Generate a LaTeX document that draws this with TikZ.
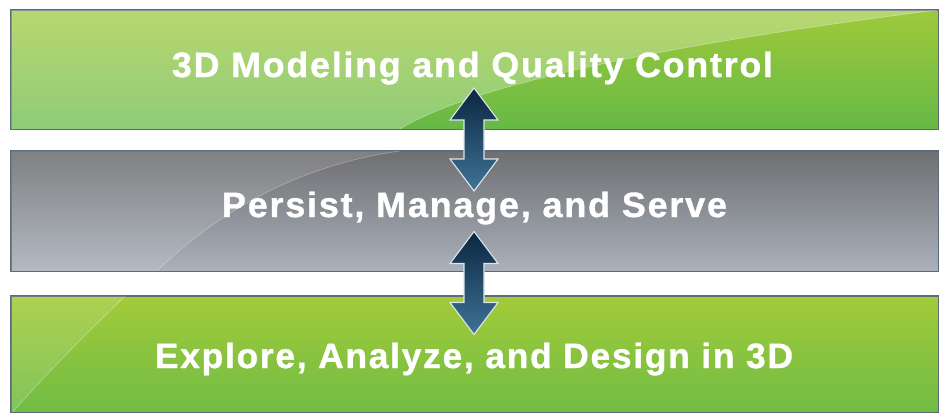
\documentclass[tikz,border=0pt]{standalone}
\usepackage{fontspec}
\usepackage{graphicx}
\setmainfont{Liberation Sans}
\newfontfamily\bandfont{Liberation Sans Bold}[LetterSpace=5, FakeBold=1]
\definecolor{grnTop}{HTML}{9FC93A}
\definecolor{grnBot}{HTML}{66B946}
\definecolor{grnTopB}{HTML}{A3CB39}
\definecolor{grnBotB}{HTML}{70BC45}
\definecolor{gryTop}{HTML}{6E6F72}
\definecolor{gryBot}{HTML}{AAB1BA}
\definecolor{bandEdge}{HTML}{5B6B7A}
\definecolor{arrTop}{HTML}{0B2640}
\definecolor{arrBot}{HTML}{3F7397}
\definecolor{arrEdge}{HTML}{DDE6EC}
\tikzset{
  band/.style={rectangle, draw=bandEdge, line width=1pt, minimum width=927pt, inner sep=0pt},
  bandtext/.style={text=white, inner sep=0pt, anchor=base},
  arrowbody/.style={top color=arrTop, bottom color=arrBot, draw=arrEdge, line width=1.1pt, line join=miter},
  gloss/.style={fill=white},
  dblarrow/.pic={
    \path[arrowbody] (0,-51.5) -- (24,-19.5) -- (10,-19.5) -- (10,19.5) -- (24,19.5) -- (0,51.5)
      -- (-24,19.5) -- (-10,19.5) -- (-10,-19.5) -- (-24,-19.5) -- cycle;
  }
}
\begin{document}
\begin{tikzpicture}[x=1pt, y=-1pt]
\useasboundingbox (0,0) rectangle (940,413);

% top band
\node[band, minimum height=119pt, top color=grnTop, bottom color=grnBot] (topband) at (474.5,69.5) {};
\begin{scope}
  \clip (topband.north west) rectangle (topband.south east);
  \fill[gloss, opacity=0.27] (11,10) -- (938,10) .. controls (700,40) and (480,80) .. (400,129) -- (11,129) -- cycle;
  \draw[white, opacity=0.35, line width=0.6pt] (938,10) .. controls (700,40) and (480,80) .. (400,129);
\end{scope}
\draw[bandEdge, line width=1pt] (topband.north west) rectangle (topband.south east);

% middle band
\node[band, minimum height=120pt, top color=gryTop, bottom color=gryBot] (midband) at (474.5,211) {};
\begin{scope}
  \clip (midband.north west) rectangle (midband.south east);
  \fill[gloss, opacity=0.12] (11,151) -- (400,151) .. controls (300,165) and (220,210) .. (157,271) -- (11,271) -- cycle;
  \draw[white, opacity=0.3, line width=0.6pt] (400,151) .. controls (300,165) and (220,210) .. (157,271);
\end{scope}
\draw[bandEdge, line width=1pt] (midband.north west) rectangle (midband.south east);

% bottom band
\node[band, minimum height=116pt, top color=grnTopB, bottom color=grnBotB] (botband) at (474.5,354) {};
\begin{scope}
  \clip (botband.north west) rectangle (botband.south east);
  \fill[gloss, opacity=0.12] (11,296) -- (125,296) .. controls (80,340) and (40,380) .. (13,412) -- (11,412) -- cycle;
  \draw[white, opacity=0.35, line width=0.6pt] (125,296) .. controls (80,340) and (40,380) .. (13,412);
\end{scope}
\draw[bandEdge, line width=1pt] (botband.north west) rectangle (botband.south east);

% texts
\node[bandtext] (toptext) at (472.5,77) {\resizebox{601pt}{25.5pt}{\bandfont 3D Modeling and Quality Control}};
\node[bandtext] (midtext) at (474.5,217) {\resizebox{505pt}{25.5pt}{\bandfont Persist, Manage, and Serve}};
\node[bandtext] (bottext) at (474,368) {\resizebox{638pt}{25.5pt}{\bandfont Explore, Analyze, and Design in 3D}};

% arrows
\coordinate (arrA) at (474,139.5);
\coordinate (arrB) at (474,283);
\pic at (arrA) {dblarrow};
\pic at (arrB) {dblarrow};
\end{tikzpicture}
\end{document}
